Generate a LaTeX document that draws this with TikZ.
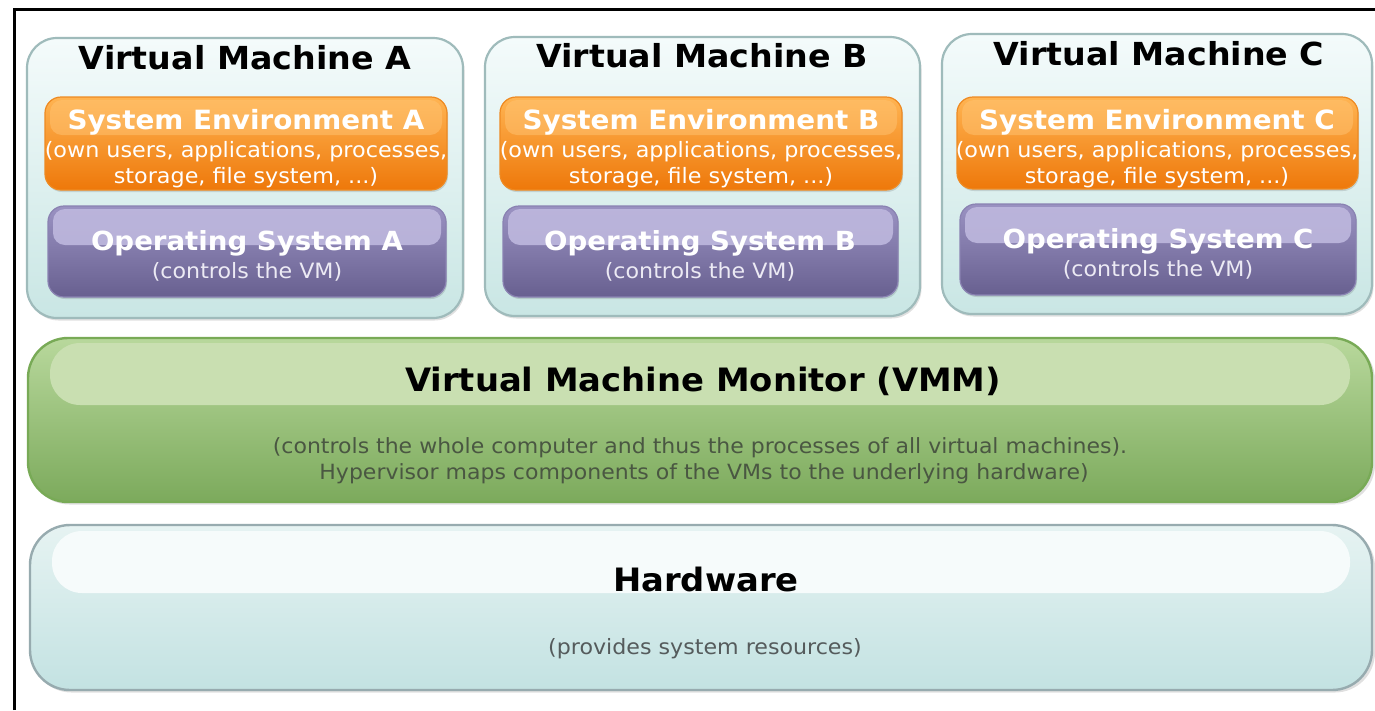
\documentclass[tikz,border=0pt]{standalone}
\usepackage{fontspec}
\setmainfont{DejaVu Sans}[FakeStretch=1.05]
\usetikzlibrary{calc}

\definecolor{vmline}{HTML}{9FBBBB}
\definecolor{vmtop}{HTML}{F4FBFB}
\definecolor{vmbot}{HTML}{C9E6E4}
\definecolor{envline}{HTML}{EE8A22}
\definecolor{envtop}{HTML}{FFB452}
\definecolor{envbot}{HTML}{EE780A}
\definecolor{envhi}{HTML}{FFC474}
\definecolor{osline}{HTML}{8A82B2}
\definecolor{ostop}{HTML}{9A92C2}
\definecolor{osbot}{HTML}{686090}
\definecolor{oshi}{HTML}{BEB8DE}
\definecolor{vmmline}{HTML}{78AA56}
\definecolor{vmmtop}{HTML}{B8D89C}
\definecolor{vmmbot}{HTML}{7CAA5C}
\definecolor{vmmhi}{HTML}{C9DFB1}
\definecolor{hwline}{HTML}{97ABAF}
\definecolor{hwtop}{HTML}{E6F3F2}
\definecolor{hwbot}{HTML}{C3E2E2}
\definecolor{hwhi}{HTML}{F6FBFB}
\definecolor{vmmtext}{HTML}{4A5742}
\definecolor{hwtext}{HTML}{555B5C}
\definecolor{ossub}{HTML}{ECEAF4}

\tikzset{
  px/.style={x=1pt,y=-1pt},
  frameline/.style={line width=3pt,black},
  shadowbox/.style={fill=black,opacity=0.12},
  vmbox/.style={draw=vmline,line width=2.2pt,top color=vmtop,bottom color=vmbot,rounded corners=30pt},
  envbox/.style={draw=envline,line width=1.2pt,top color=envtop,bottom color=envbot,rounded corners=16pt},
  envglow/.style={fill=envhi,opacity=0.5,rounded corners=12pt},
  osbox/.style={draw=osline,line width=1.2pt,top color=ostop,bottom color=osbot,rounded corners=16pt},
  osglow/.style={fill=oshi,opacity=0.9,rounded corners=12pt},
  vmmbox/.style={draw=vmmline,line width=2.4pt,top color=vmmtop,bottom color=vmmbot,rounded corners=40pt},
  vmmglow/.style={fill=vmmhi,rounded corners=30pt},
  hwbox/.style={draw=hwline,line width=2.4pt,top color=hwtop,bottom color=hwbot,rounded corners=40pt},
  hwglow/.style={fill=hwhi,rounded corners=30pt},
  vmtitle/.style={anchor=base,font=\bfseries\fontsize{31.7}{36}\selectfont,text=black},
  envtitle/.style={anchor=base,font=\bfseries\fontsize{26.5}{30}\selectfont,text=white},
  envsub/.style={anchor=base,font=\fontsize{21.2}{24}\selectfont,text=white},
  ostitle/.style={anchor=base,font=\bfseries\fontsize{26.3}{30}\selectfont,text=white},
  ossubtext/.style={anchor=base,font=\fontsize{21.1}{24}\selectfont,text=ossub},
  bigtitle/.style={anchor=base,font=\bfseries\fontsize{32.2}{36}\selectfont,text=black},
  vmmsub/.style={anchor=base,font=\fontsize{20.95}{24}\selectfont,text=vmmtext},
  hwsub/.style={anchor=base,font=\fontsize{21.1}{24}\selectfont,text=hwtext},
}

\begin{document}
\begin{tikzpicture}[px]
\useasboundingbox[fill=white] (0,0) rectangle (1375,710);

% outer frame (only its top and left edges fall inside the page)
\draw[frameline] (14,710) -- (14,9) -- (1375,9);

% --- virtual machines -------------------------------------------------
\foreach \xa/\xb/\ya/\yb in {27/463/38/318, 485/920/37/316, 942/1372/34/314}{
  \fill[shadowbox,rounded corners=30pt] (\xa+1.5,\ya+2) rectangle (\xb+1.5,\yb+2.5);
  \path[vmbox] (\xa,\ya) rectangle (\xb,\yb);
}

% system environments
\foreach \xa/\xb/\ya/\yb in {45/447/97/190, 500/902/97/190, 957/1358/97/189}{
  \fill[shadowbox,rounded corners=16pt] (\xa+1,\ya+1.5) rectangle (\xb+1,\yb+2);
  \path[envbox] (\xa,\ya) rectangle (\xb,\yb);
  \fill[envglow] (\xa+5,\ya+3) rectangle (\xb-5,\ya+38);
}

% operating systems
\foreach \xa/\xb/\ya/\yb in {48/446/206/297, 503/898/206/297, 960/1356/204/295}{
  \fill[shadowbox,rounded corners=16pt] (\xa+1,\ya+1.5) rectangle (\xb+1,\yb+2);
  \path[osbox] (\xa,\ya) rectangle (\xb,\yb);
  \fill[osglow] (\xa+5,\ya+3) rectangle (\xb-5,\ya+39);
}

\node[vmtitle] (vmA) at (245,69) {Virtual Machine A};
\node[vmtitle] (vmB) at (702,67) {Virtual Machine B};
\node[vmtitle] (vmC) at (1159,65) {Virtual Machine C};

\node[envtitle] (envA) at (246,129) {System Environment A};
\node[envsub] (envA1) at (246,157) {(own users, applications, processes,};
\node[envsub] (envA2) at (246,183) {storage, file system, ...)};
\node[envtitle] (envB) at (701,129) {System Environment B};
\node[envsub] (envB1) at (701,157) {(own users, applications, processes,};
\node[envsub] (envB2) at (701,183) {storage, file system, ...)};
\node[envtitle] (envC) at (1157,129) {System Environment C};
\node[envsub] (envC1) at (1157,157) {(own users, applications, processes,};
\node[envsub] (envC2) at (1157,183) {storage, file system, ...)};

\node[ostitle] (osA) at (247,250) {Operating System A};
\node[ossubtext] (osA1) at (247,278) {(controls the VM)};
\node[ostitle] (osB) at (700,250) {Operating System B};
\node[ossubtext] (osB1) at (700,278) {(controls the VM)};
\node[ostitle] (osC) at (1158,248) {Operating System C};
\node[ossubtext] (osC1) at (1158,276) {(controls the VM)};

% --- virtual machine monitor -----------------------------------------
\fill[shadowbox,rounded corners=40pt] (29.5,340) rectangle (1375,504.5);
\path[vmmbox] (28,338) rectangle (1372,502);
\fill[vmmglow] (50,343) rectangle (1350,405);
\node[bigtitle] (vmm) at (703,391) {Virtual Machine Monitor (VMM)};
\node[vmmsub] (vmm1) at (700,453) {(controls the whole computer and thus the processes of all virtual machines).};
\node[vmmsub] (vmm2) at (704,479) {Hypervisor maps components of the VMs to the underlying hardware)};

% --- hardware ----------------------------------------------------------
\fill[shadowbox,rounded corners=40pt] (31.5,527) rectangle (1375,692.5);
\path[hwbox] (30,525) rectangle (1372,690);
\fill[hwglow] (52,531) rectangle (1350,593);
\node[bigtitle] (hw) at (706,591) {Hardware};
\node[hwsub] (hw1) at (705,654) {(provides system resources)};
\end{tikzpicture}
\end{document}
